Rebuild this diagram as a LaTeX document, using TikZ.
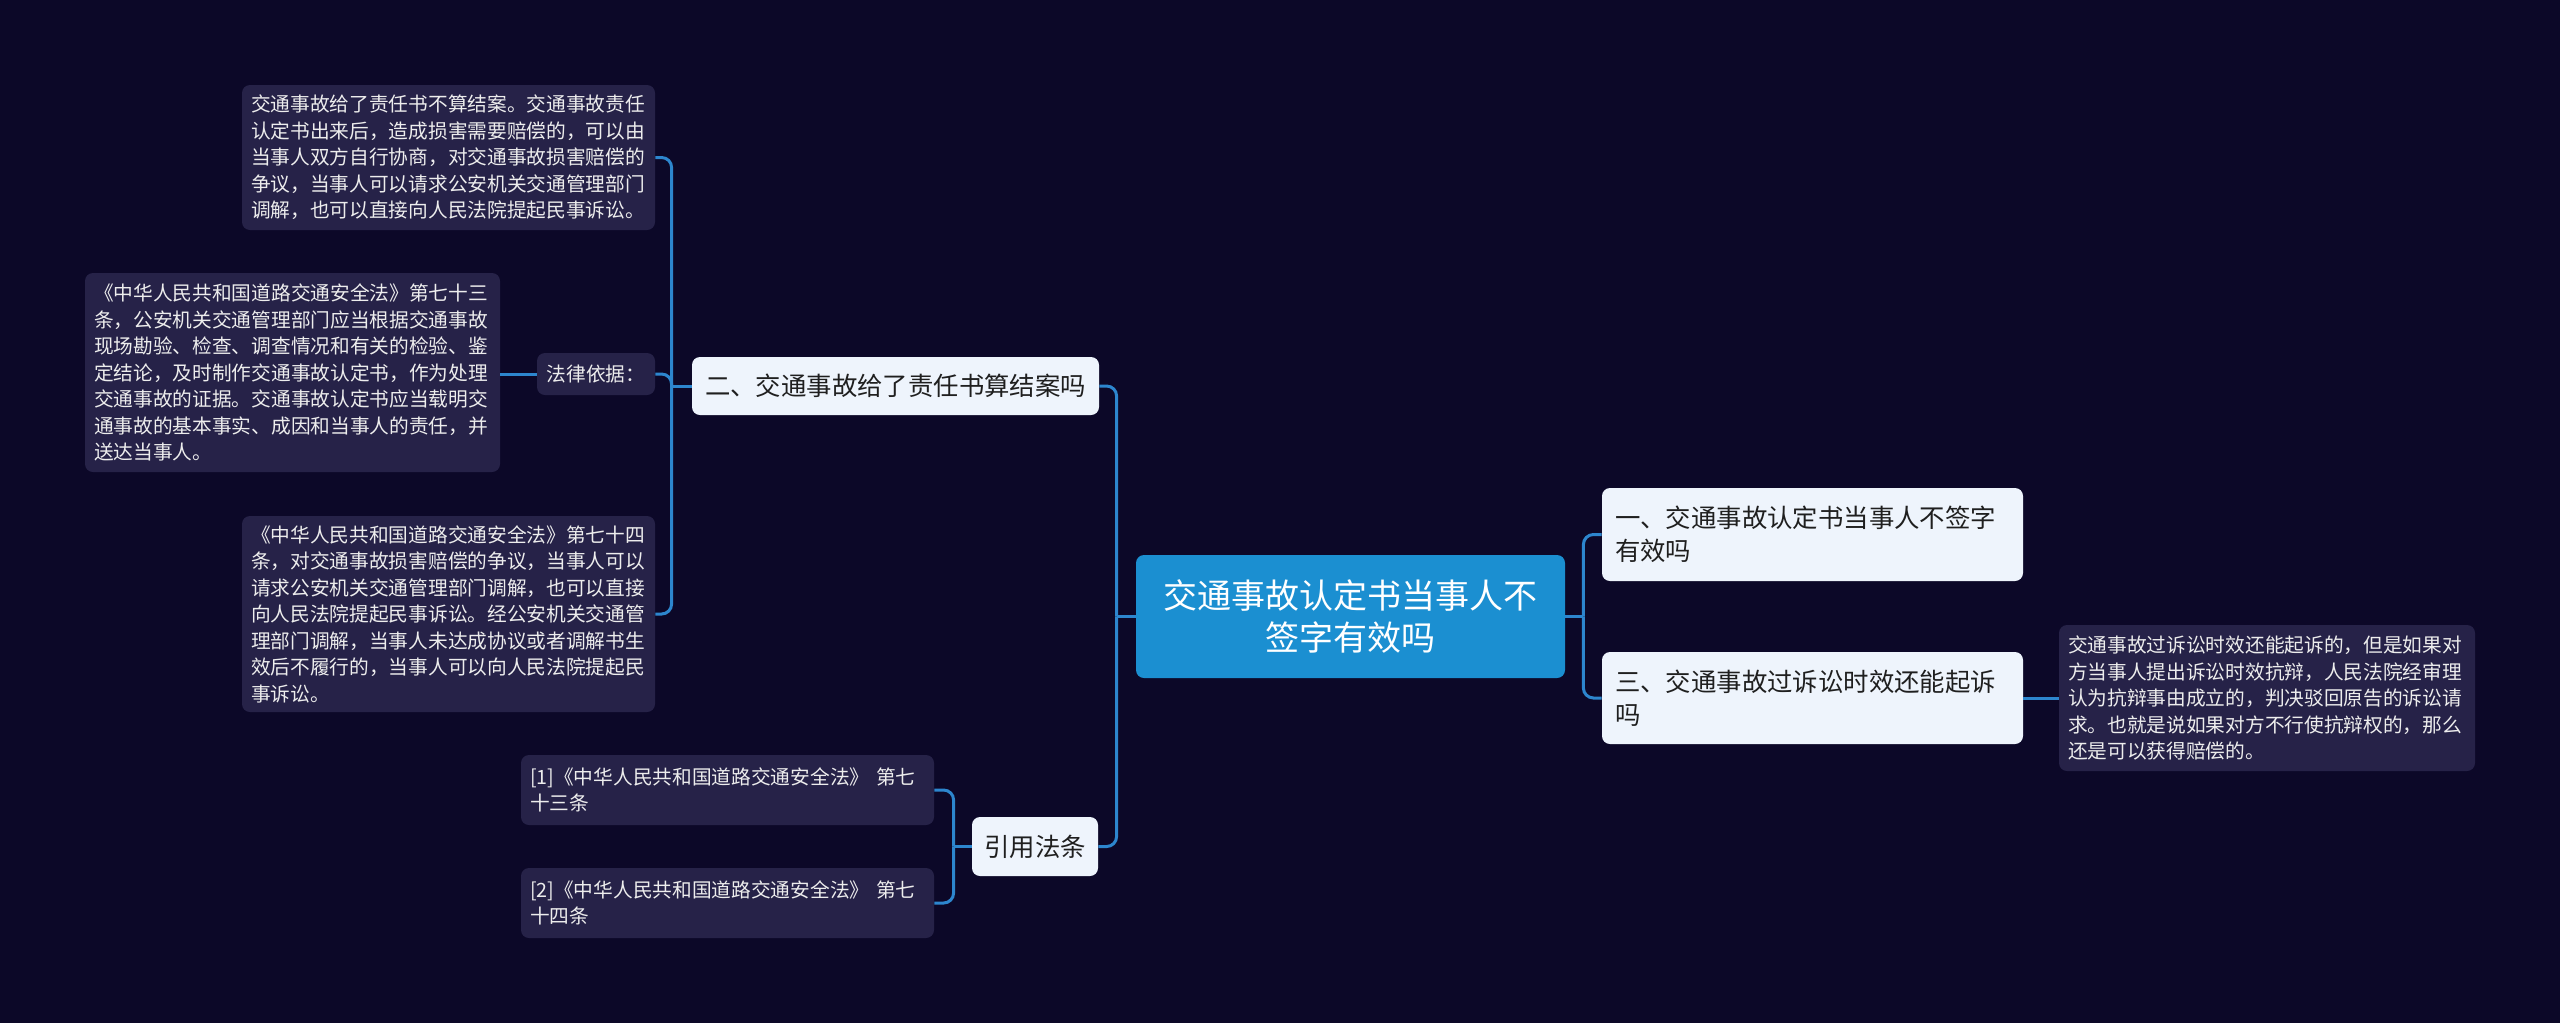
\documentclass[tikz,border=0pt]{standalone}
\usepackage{fontspec}
\usepackage{tikz}
\newfontfamily\cjk{Noto Sans CJK SC}
\definecolor{bgnavy}{RGB}{12,8,40}
\definecolor{leafbg}{RGB}{38,34,72}
\definecolor{topicbg}{RGB}{238,244,252}
\definecolor{rootbg}{RGB}{27,143,209}
\definecolor{linkblue}{RGB}{45,134,206}

\begin{document}
\begin{tikzpicture}[x=0.5pt, y=-0.5pt,
		root_style/.style={rectangle,rounded corners=4pt,fill=rootbg,text=white,align=center,inner sep=0pt,font=\cjk\fontsize{17}{21.25}\selectfont},
		topic_style/.style={rectangle,rounded corners=4pt,fill=topicbg,text=black!88,align=left,inner xsep=6.5pt,inner ysep=0pt,font=\cjk\fontsize{12.7}{16.3}\selectfont},
		leaf_style/.style={rectangle,rounded corners=4pt,fill=leafbg,text=white!93!black,align=left,inner xsep=4.5pt,inner ysep=0pt,font=\cjk\fontsize{9.85}{13.25}\selectfont},
		edge_style/.style={draw=linkblue,line width=1.5pt,rounded corners=5pt}]

		\fill[bgnavy] (0,0) rectangle (2560,1023);
		\useasboundingbox (0,0) rectangle (2560,1023);

		% centre and right side
		\node[root_style, minimum width=214.5pt, minimum height=61.5pt] (root) at (1350.5,616.5) {交通事故认定书当事人不\\签字有效吗};
		\node[topic_style, text width=197.5pt, minimum height=46.5pt] (n1) at (1812.5,534.5) {一、交通事故认定书当事人不签字\\有效吗};
		\node[topic_style, text width=197.5pt, minimum height=46pt] (n3) at (1812.5,698) {三、交通事故过诉讼时效还能起诉\\吗};
		\node[leaf_style, text width=199pt, minimum height=73pt] (d3) at (2267,698) {交通事故过诉讼时效还能起诉的，但是如果对\\方当事人提出诉讼时效抗辩，人民法院经审理\\认为抗辩事由成立的，判决驳回原告的诉讼请\\求。也就是说如果对方不行使抗辩权的，那么\\还是可以获得赔偿的。};

		% left side
		\node[topic_style, text width=190.5pt, minimum height=29pt] (n2) at (895.5,386) {二、交通事故给了责任书算结案吗};
		\node[leaf_style, text width=197.5pt, minimum height=72.5pt] (d21) at (448.5,157.5) {交通事故给了责任书不算结案。交通事故责任\\认定书出来后，造成损害需要赔偿的，可以由\\当事人双方自行协商，对交通事故损害赔偿的\\争议，当事人可以请求公安机关交通管理部门\\调解，也可以直接向人民法院提起民事诉讼。};
		\node[leaf_style, align=center, text width=50pt, minimum height=21pt] (basis) at (596,374) {法律依据：};
		\node[leaf_style, text width=198.5pt, minimum height=99.5pt] (d73) at (292.5,372.5) {《中华人民共和国道路交通安全法》第七十三\\条，公安机关交通管理部门应当根据交通事故\\现场勘验、检查、调查情况和有关的检验、鉴\\定结论，及时制作交通事故认定书，作为处理\\交通事故的证据。交通事故认定书应当载明交\\通事故的基本事实、成因和当事人的责任，并\\送达当事人。};
		\node[leaf_style, text width=197.5pt, minimum height=98pt] (d74) at (448.5,614) {《中华人民共和国道路交通安全法》第七十四\\条，对交通事故损害赔偿的争议，当事人可以\\请求公安机关交通管理部门调解，也可以直接\\向人民法院提起民事诉讼。经公安机关交通管\\理部门调解，当事人未达成协议或者调解书生\\效后不履行的，当事人可以向人民法院提起民\\事诉讼。};

		\node[topic_style, align=center, inner xsep=6pt, text width=51pt, minimum height=29.5pt] (n4) at (1035,846.5) {引用法条};
		\node[leaf_style, text width=197.5pt, minimum height=35pt] (r1) at (727.5,790) {[1]《中华人民共和国道路交通安全法》 第七\\十三条};
		\node[leaf_style, text width=197.5pt, minimum height=35pt] (r2) at (727.5,903) {[2]《中华人民共和国道路交通安全法》 第七\\十四条};

		% connectors
		\coordinate (jL) at ([xshift=-9.5pt]root.west);
		\coordinate (jR) at ([xshift=9pt]root.east);
		\coordinate (jB) at ([xshift=-10pt]n2.west);
		\coordinate (jC) at ([xshift=-9pt]n4.west);

		\draw[edge_style] (root.west) -- (jL);
		\draw[edge_style] (jL) |- (n2.east);
		\draw[edge_style] (jL) |- (n4.east);
		\draw[edge_style] (root.east) -- (jR);
		\draw[edge_style] (jR) |- (n1.west);
		\draw[edge_style] (jR) |- (n3.west);
		\draw[edge_style] (n3.east) -- (d3.west);
		\draw[edge_style] (n2.west) -- (jB);
		\draw[edge_style] (jB) |- (d21.east);
		\draw[edge_style] (jB) |- (basis.east);
		\draw[edge_style] (jB) |- (d74.east);
		\draw[edge_style] (basis.west) -- (basis.west -| d73.east);
		\draw[edge_style] (n4.west) -- (jC);
		\draw[edge_style] (jC) |- (r1.east);
		\draw[edge_style] (jC) |- (r2.east);

\end{tikzpicture}
\end{document}
